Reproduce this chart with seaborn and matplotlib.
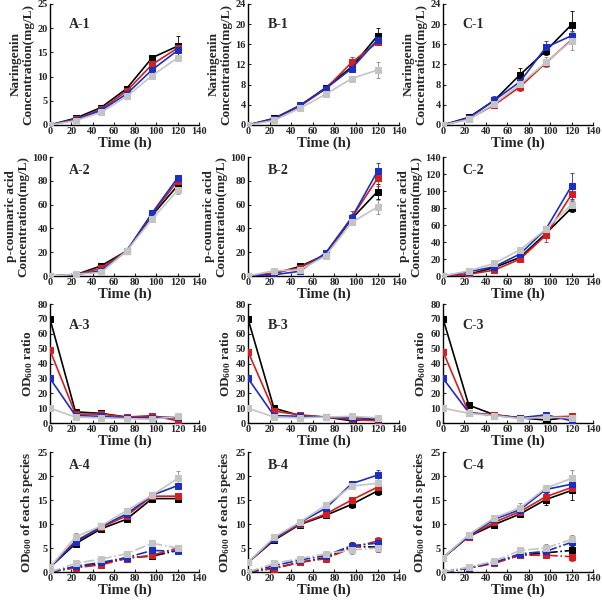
import numpy as np
import pandas as pd
import seaborn as sns
import matplotlib
matplotlib.use("Agg")
import matplotlib.pyplot as plt

sns.set_style("ticks")
plt.rcParams['font.family'] = ['Liberation Serif', 'DejaVu Serif']
plt.rcParams['font.weight'] = 'bold'
plt.rcParams['mathtext.fontset'] = 'custom'
plt.rcParams['mathtext.rm'] = 'Liberation Serif:bold'
plt.rcParams['mathtext.bf'] = 'Liberation Serif:bold'
plt.rcParams['mathtext.default'] = 'bf'

# sampling times (h)
TIME = [0, 24, 48, 72, 96, 120]
COLORS = ["#000000", "#d21f1f", "#1c2fc0", "#c4c4c4"]  # black, red, blue, gray

# row 1: naringenin (mg/L) -- order black, red, blue, gray
A1 = [[0, 1.4, 3.6, 7.5, 13.9, 16.3], [0, 1.2, 3.2, 7.0, 12.5, 15.9],
      [0, 1.1, 3.0, 6.4, 11.4, 15.4], [0, 0.9, 2.6, 5.9, 10.2, 13.9]]
A1_err = [[0, .2, .3, .4, .5, 2.0], [0, .2, .3, .4, .5, .6],
          [0, .2, .3, .3, .5, .6], [0, .2, .3, .3, .4, .5]]
B1 = [[0, 1.3, 3.8, 7.4, 11.5, 17.7], [0, 1.2, 3.7, 7.2, 12.4, 16.4],
      [0, 1.2, 3.9, 7.2, 11.2, 16.9], [0, 0.9, 3.3, 6.1, 9.2, 10.9]]
B1_err = [[0, .2, .3, .4, .5, 1.5], [0, .2, .3, .4, 1.0, .6],
          [0, .2, .3, .4, .6, .8], [0, .2, .3, .3, .6, 1.5]]
C1 = [[0, 1.5, 4.9, 10.0, 14.7, 19.9], [0, 1.2, 4.0, 7.6, 12.3, 16.9],
      [0, 1.4, 4.9, 8.6, 15.4, 17.7], [0, 1.1, 4.2, 8.1, 12.4, 16.7]]
C1_err = [[0, .2, .5, 1.3, .8, 2.7], [0, .2, .3, .8, .8, .8],
          [0, .2, .8, .8, 1.2, 1.0], [0, .2, .4, .6, 1.0, 1.8]]

# row 2: p-coumaric acid (mg/L)
A2 = [[0, 1, 8.5, 21, 51, 76], [0, 1, 6.5, 21, 52, 80],
      [0, 1, 4.5, 21, 53, 82.5], [0, 1.5, 3, 21, 48, 72]]
A2_err = [[0, .5, 1, 1.5, 2, 3], [0, .5, 1, 1.5, 2, 2],
          [0, .5, 1, 1.5, 2, 2], [0, .5, 1, 1.5, 3, 3]]
B2 = [[0, 2, 8, 18, 48, 71], [0, 2.5, 7, 18, 49, 82],
      [0, 1, 4, 19.5, 49, 88], [0, 4.5, 5, 17, 45, 58]]
B2_err = [[0, .5, 1, 1, 2, 6], [0, .5, 1, 1, 6, 6],
          [0, .5, 1, 1, 3, 7], [0, 1, 1, 1, 2, 6]]
C2 = [[0, 2, 10, 22, 50, 80], [0, 2, 7, 20, 48, 96],
      [0, 5, 11, 26, 55, 106], [0, 6, 15, 31, 55, 84]]
C2_err = [[0, 1, 1, 2, 3, 5], [0, 1, 1, 2, 8, 8],
          [0, 1, 2, 3, 3, 15], [0, 1, 2, 2, 3, 5]]

# row 3: OD600 ratio
A3 = [[70, 7.5, 6.5, 4, 4, 3.5], [49, 6, 6, 4, 5, 1.5],
      [30, 5, 4.5, 3.5, 3.5, 4], [10, 4, 3.5, 3, 2.5, 4.5]]
A3_err = [[2, 1, 1, .5, .5, .5], [2, 1, 1, .5, 1, .5],
          [2, 1, .5, .5, .5, .5], [1, .5, .5, .5, .5, .5]]
B3 = [[70, 10, 5, 4, 1.5, 3], [48, 8, 5.5, 4, 2.5, 1.5],
      [30, 5, 4.5, 4, 3.5, 3], [10, 4, 3.5, 4, 4.5, 3.5]]
B3_err = [[2, 1, .5, .5, .5, .5], [2, 1, 1, .5, .5, .5],
          [2, 1, .5, .5, .5, .5], [1, .5, .5, .5, 1, .5]]
C3 = [[70, 12, 5.5, 3.5, 2, 4], [48, 7, 5.5, 3.5, 4, 4.5],
      [30, 7, 5, 3.5, 5.5, 1.5], [10, 6.5, 5, 3, 4, 3.5]]
C3_err = [[2, 1, .5, .5, .5, .5], [2, 1, .5, .5, .5, .5],
          [2, 1, .5, .5, 1, .5], [1, .5, .5, .5, .5, .5]]

# row 4: OD600 of each species (solid = species 1, dash-dot = species 2)
A4 = [[1, 5.9, 9.0, 11.0, 15.3, 15.3], [1, 6.5, 9.3, 11.7, 15.8, 15.8],
      [1, 6.2, 9.5, 12.1, 16.0, 18.0], [1, 7.3, 9.6, 12.8, 16.0, 19.5]]
A4_err = [[0, .5, .4, .4, .4, .5], [0, .5, .4, .4, .4, .5],
          [0, .5, .4, .4, .4, .5], [0, .8, .5, .5, .5, 1.6]]
A4d = [[0, 1.0, 1.7, 3.0, 3.3, 4.5], [0, 0.9, 1.5, 2.8, 3.5, 5.0],
       [0, 1.2, 2.0, 3.0, 4.5, 4.3], [0, 1.8, 2.7, 3.8, 6.0, 5.0]]
A4d_err = [[0, .4, .4, .4, .4, .4], [0, .4, .4, .4, .4, .4],
           [0, .4, .4, .4, .4, .4], [0, .4, .4, .5, .4, .4]]
B4 = [[2, 6.6, 9.9, 11.8, 14.1, 16.9], [2, 6.8, 10.0, 12.1, 15.0, 17.7],
      [2, 6.9, 10.3, 13.3, 18.4, 20.2], [2, 7.2, 10.4, 13.9, 17.9, 18.5]]
B4_err = [[0, .5, .4, .4, .8, .8], [0, .5, .4, .4, .6, .8],
          [0, .5, .4, .5, .6, 1.0], [0, .8, .5, .6, .6, 1.3]]
B4d = [[0, 0.8, 2.0, 3.0, 5.3, 5.2], [0, 0.7, 2.0, 2.8, 5.0, 6.5],
       [0, 1.3, 2.5, 3.4, 5.5, 6.0], [0, 1.8, 2.8, 3.8, 4.6, 5.0]]
B4d_err = [[0, .5, .5, .5, 1.0, 1.0], [0, .5, .5, .5, .8, .8],
           [0, .5, .5, .5, .8, .8], [0, .5, .5, .5, .8, .8]]
C4 = [[3, 7.4, 9.9, 12.1, 15.1, 17.0], [3, 7.4, 10.4, 12.6, 15.7, 17.6],
      [3, 7.5, 11.0, 13.0, 17.2, 18.3], [3, 7.8, 11.3, 13.4, 17.5, 19.5]]
C4_err = [[0, .4, .5, .4, 1.2, 2.0], [0, .4, .5, .4, .8, 1.0],
          [0, .4, .6, .5, .8, 1.0], [0, .4, .6, 1.0, .6, 1.8]]
C4d = [[0, 0.8, 2.0, 3.5, 4.0, 4.5], [0, 0.8, 1.8, 3.5, 3.5, 3.2],
       [0, 0.9, 2.0, 3.8, 4.3, 6.2], [0, 1.0, 2.3, 4.5, 5.0, 6.8]]
C4d_err = [[0, .4, .4, .6, .8, 1.0], [0, .4, .4, .6, .6, .8],
           [0, .4, .4, .6, .8, 1.0], [0, .4, .4, .6, .8, .9]]

ROW_LABELS = ["Naringenin\nConcentration(mg/L)",
              "p-coumaric acid\nConcentration(mg/L)",
              "OD$_{600}$ ratio",
              "OD$_{600}$ of each species"]

panels = [
    [("A-1", A1, A1_err, None, None, 25, 5), ("B-1", B1, B1_err, None, None, 24, 4),
     ("C-1", C1, C1_err, None, None, 24, 4)],
    [("A-2", A2, A2_err, None, None, 100, 20), ("B-2", B2, B2_err, None, None, 100, 20),
     ("C-2", C2, C2_err, None, None, 140, 20)],
    [("A-3", A3, A3_err, None, None, 80, 10), ("B-3", B3, B3_err, None, None, 80, 10),
     ("C-3", C3, C3_err, None, None, 80, 10)],
    [("A-4", A4, A4_err, A4d, A4d_err, 25, 5), ("B-4", B4, B4_err, B4d, B4d_err, 25, 5),
     ("C-4", C4, C4_err, C4d, C4d_err, 25, 5)],
]

col_left = [0.083, 0.412, 0.736]
col_w = [0.2475, 0.251, 0.249]
row_bottom = [0.7924, 0.5415, 0.2973, 0.0498]
row_h = [0.201, 0.1977, 0.1977, 0.1993]
label_y = [0.83, 0.89, 0.82, 0.89]


def draw_series(ax, vals, errs, ls):
    for v, e, c in zip(vals, errs, COLORS):
        ax.errorbar(TIME, v, yerr=e, fmt='none', ecolor=c if c != "#c4c4c4" else "#8a8a8a",
                    elinewidth=0.6, capsize=1.5, capthick=0.6, zorder=2)
        sns.lineplot(x=TIME, y=v, ax=ax, color=c, linewidth=1.2, linestyle=ls,
                     marker='s', markersize=3.8, markeredgecolor=c, errorbar=None,
                     zorder=3)


fig = plt.figure(figsize=(6.02, 6.02), dpi=100)
for r, row in enumerate(panels):
    for ci, (name, vals, errs, dvals, derrs, ymax, ystep) in enumerate(row):
        ax = fig.add_axes([col_left[ci], row_bottom[r], col_w[ci], row_h[r]])
        draw_series(ax, vals, errs, '-')
        if dvals is not None:
            draw_series(ax, dvals, derrs, '-.')
        ax.set_xlim(0, 140)
        ax.set_ylim(0, ymax)
        ax.set_xticks(range(0, 141, 20))
        ax.set_yticks(range(0, ymax + 1, ystep))
        ax.tick_params(labelsize=7.5, direction='in', length=2.5, width=0.8, pad=1.5)
        for lab in ax.get_xticklabels() + ax.get_yticklabels():
            lab.set_fontweight('bold')
        sns.despine(ax=ax)
        for s in ('left', 'bottom'):
            ax.spines[s].set_linewidth(1.0)
            ax.spines[s].set_color('black')
        ax.set_xlabel("Time (h)", fontsize=10.5, fontweight='bold', labelpad=0.5)
        ax.set_ylabel(ROW_LABELS[r], fontsize=9.5, fontweight='bold', labelpad=2,
                      linespacing=1.1)
        ax.text(0.13, label_y[r], name, transform=ax.transAxes, fontsize=10,
                fontweight='bold', va='center')

fig.savefig("out.png", dpi=100)
